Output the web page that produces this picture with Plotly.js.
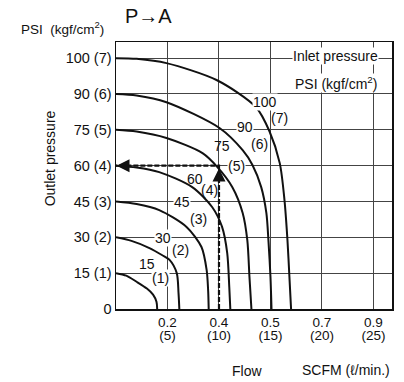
<!DOCTYPE html>
<html><head><meta charset="utf-8">
<script src="https://cdn.plot.ly/plotly-3.0.1.min.js"></script>
<style>html,body{margin:0;padding:0;background:#fff}</style>
</head><body><div id="chart" style="width:404px;height:382px"></div>
<script>
// Inlet pressure curves: flow (l/min) vs outlet pressure (kgf/cm2)
const inletPsi = ['15','30','45','60','75','90','100'];
const inletKgf = ['(1)','(2)','(3)','(4)','(5)','(6)','(7)'];
const flow1 = [0, 1.0, 2.0, 3.0, 3.6, 3.93, 4.0];
const pres1 = [1, 0.93, 0.76, 0.57, 0.4, 0.2, 0];
const flow2 = [0, 1.5, 3.25, 4.5, 5.2, 5.9, 6.07, 6.15];
const pres2 = [2, 1.9, 1.7, 1.5, 1.37, 1.0, 0.45, 0];
const flow3 = [0, 2.0, 4.2, 6.85, 8.3, 8.8, 8.95, 9.0];
const pres3 = [3, 2.93, 2.76, 2.29, 1.73, 1.09, 0.5, 0];
const flow4 = [0, 2.0, 4.2, 7.4, 9.35, 10.3, 10.8, 11.0, 11.1];
const pres4 = [4, 3.95, 3.82, 3.4, 2.84, 2.29, 1.56, 0.61, 0];
const flow5 = [0, 2.0, 4.9, 8.4, 9.85, 11.3, 12.3, 12.75, 12.96, 13.15];
const pres5 = [5, 4.95, 4.77, 4.35, 3.96, 3.4, 2.68, 1.92, 0.89, 0];
const flow6 = [0, 2.0, 4.9, 10.05, 12.3, 13.25, 14.1, 14.6, 14.8, 15.0, 15.1];
const pres6 = [6, 5.96, 5.77, 5.05, 4.43, 4.02, 3.4, 2.68, 1.92, 0.89, 0];
const flow7 = [0, 2.0, 4.9, 9.76, 13.6, 14.9, 15.9, 16.36, 16.65, 16.84, 17.0];
const pres7 = [7, 6.98, 6.86, 6.39, 5.63, 4.96, 4.07, 3.04, 1.92, 0.89, 0];
// Example reading: 75 PSI inlet, 10 l/min -> 60 PSI outlet
const opFlow = [10];
const opOutlet = [4];
// Axis ticks
const yTickVals = [0, 1, 2, 3, 4, 5, 6, 7];
const yTickText = ['0', '15 (1)', '30 (2)', '45 (3)', '60 (4)', '75 (5)', '90 (6)', '100 (7)'];
const xTickVals = [5, 10, 15, 20, 25];
const xTickScfm = ['0.2', '0.4', '0.5', '0.7', '0.9'];
const xTickLmin = ['(5)', '(10)', '(15)', '(20)', '(25)'];

const flows = [flow1, flow2, flow3, flow4, flow5, flow6, flow7];
const pres = [pres1, pres2, pres3, pres4, pres5, pres6, pres7];
const FONT = 'Liberation Sans, Arial, sans-serif';

const traces = flows.map((f, i) => ({
  x: f, y: pres[i], type: 'scatter', mode: 'lines',
  line: {color: '#111', width: 2, shape: 'spline', smoothing: 0.8},
  hoverinfo: 'skip', showlegend: false, xaxis: 'x', yaxis: 'y'
}));
traces.push({
  x: [opFlow[0], opFlow[0], 0], y: [0, opOutlet[0], opOutlet[0]],
  type: 'scatter', mode: 'lines',
  line: {color: '#111', width: 2.2, dash: '5px,2px'},
  showlegend: false, hoverinfo: 'skip'
});
// invisible trace for second x-axis tick labels
traces.push({x: [0], y: [0], xaxis: 'x2', yaxis: 'y', mode: 'markers',
  marker: {opacity: 0}, showlegend: false, hoverinfo: 'skip'});

const lab = (text, x, y, bg) => ({
  text, x, y, xref: 'x', yref: 'y', showarrow: false,
  xanchor: 'center', yanchor: 'middle',
  font: {family: FONT, size: 14, color: '#111'},
  bgcolor: bg ? '#fff' : 'rgba(0,0,0,0)', borderpad: 0
});
const outer = (text, x, y, size, extra) => Object.assign({
  text, x, y, xref: 'paper', yref: 'paper', showarrow: false,
  xanchor: 'center', yanchor: 'middle',
  font: {family: FONT, size, color: '#111'}
}, extra || {});
const annotations = [
  lab(inletPsi[6], 14.5, 5.77, true), lab(inletKgf[6], 15.9, 5.33, false),
  lab(inletPsi[5], 12.5, 5.07, true), lab(inletKgf[5], 13.9, 4.6, false),
  lab(inletPsi[4], 10.25, 4.54, false), lab(inletKgf[4], 11.7, 4.0, true),
  lab(inletPsi[3], 7.65, 3.64, false), lab(inletKgf[3], 9.05, 3.33, false),
  lab(inletPsi[2], 6.4, 2.98, true), lab(inletKgf[2], 8.0, 2.5, false),
  lab(inletPsi[1], 4.6, 1.98, true), lab(inletKgf[1], 6.3, 1.65, false),
  lab(inletPsi[0], 3.05, 1.25, false), lab(inletKgf[0], 4.3, 0.86, true),
  lab('Inlet pressure', 21.3, 7.05, true),
  lab('PSI (kgf/cm<sup>2</sup>)', 21.4, 6.3, true),
  // arrowheads
  {x: opFlow[0], y: opOutlet[0] - 0.08, ax: 0, ay: 12, xref: 'x', yref: 'y', text: '',
   showarrow: true, arrowhead: 2, arrowsize: 1.3, arrowwidth: 2, arrowcolor: '#111'},
  {x: 0.05, y: opOutlet[0], ax: 12, ay: 0, xref: 'x', yref: 'y', text: '',
   showarrow: true, arrowhead: 2, arrowsize: 1.3, arrowwidth: 2, arrowcolor: '#111'},
  // outer texts
  outer('PSI  (kgf/cm<sup>2</sup>)', -0.35, 1.052, 13.5, {xanchor: 'left'}),
  outer('P\u2192A', 0.027, 1.099, 20, {xanchor: 'left'}),
  outer('Flow', 0.412, -0.233, 14, {xanchor: 'left'}),
  outer('SCFM (\u2113/min.)', 1.0, -0.229, 14, {xanchor: 'right'}),
  outer('Outlet pressure', -0.241, 0.566, 14, {textangle: -90})
];

const layout = {
  width: 404, height: 382,
  margin: {l: 116, r: 12, t: 42, b: 73},
  paper_bgcolor: '#fff', plot_bgcolor: '#fff',
  font: {family: FONT, color: '#111'},
  xaxis: {range: [0, 26.8], tickvals: xTickVals, ticktext: xTickScfm,
    showgrid: true, gridcolor: '#444', gridwidth: 1, zeroline: false,
    showline: true, linecolor: '#111', linewidth: 1.5, mirror: true,
    ticks: '', tickfont: {family: FONT, size: 13.5, color: '#111'}},
  xaxis2: {range: [0, 26.8], overlaying: 'x', side: 'bottom', anchor: 'y',
    tickvals: xTickVals, ticktext: xTickLmin, showgrid: false, zeroline: false,
    showline: false, ticks: 'outside', ticklen: 14, tickcolor: 'rgba(0,0,0,0)',
    tickfont: {family: FONT, size: 13.5, color: '#111'}},
  yaxis: {range: [0, 7.45], tickvals: yTickVals, ticktext: yTickText,
    showgrid: true, gridcolor: '#444', gridwidth: 1, zeroline: false,
    showline: true, linecolor: '#111', linewidth: 1.5, mirror: true,
    ticks: '', tickfont: {family: FONT, size: 14.5, color: '#111'}},
  annotations, showlegend: false
};
Plotly.newPlot('chart', traces, layout, {staticPlot: true, displayModeBar: false});
</script></body></html>
